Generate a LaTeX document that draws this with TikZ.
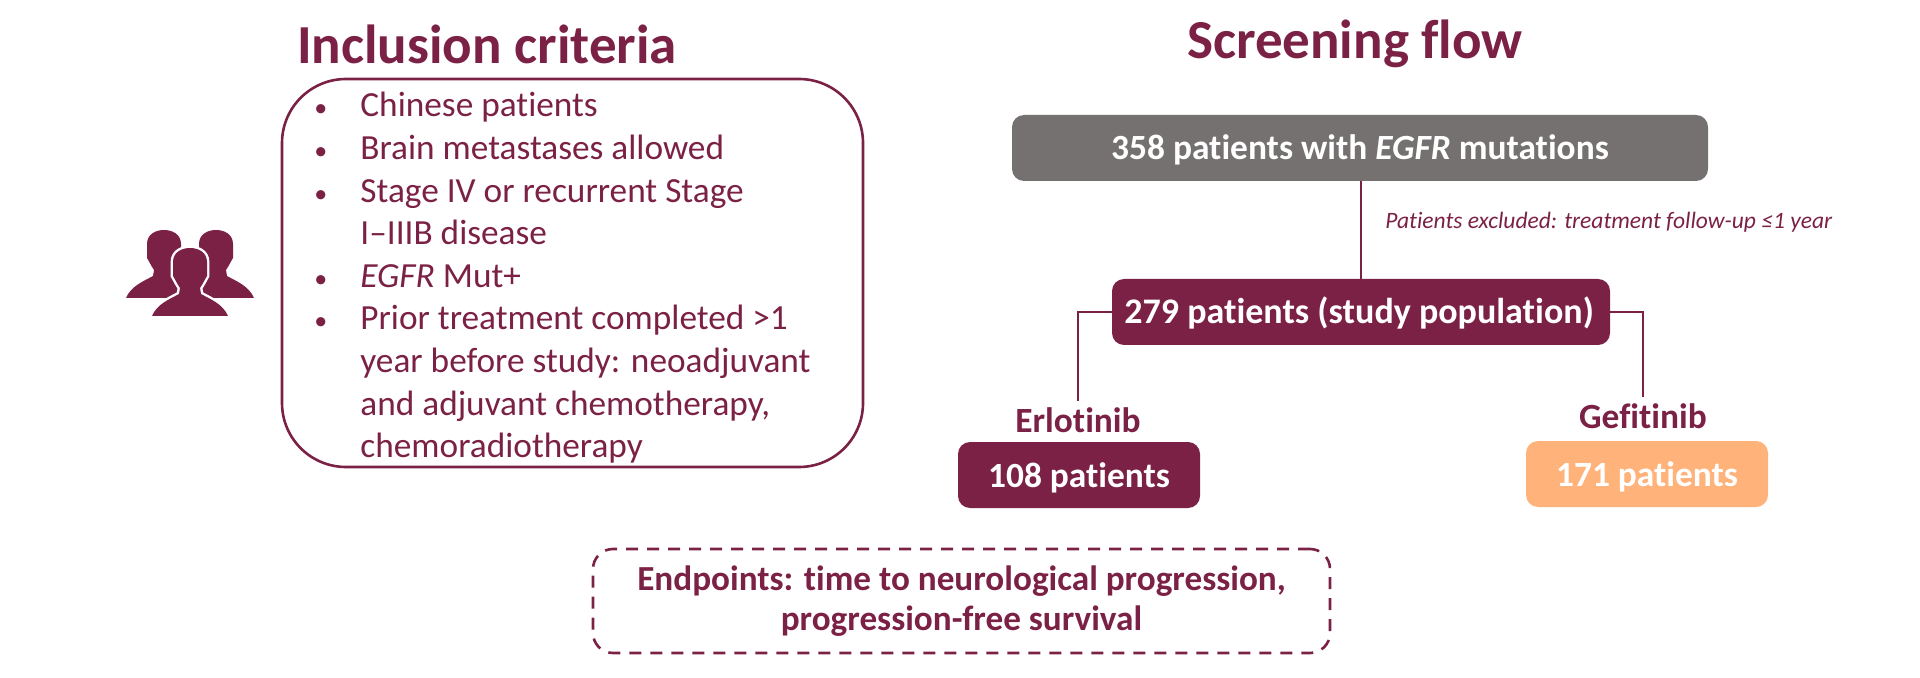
\documentclass[tikz,border=0pt]{standalone}
\usepackage{fontspec}
\setmainfont{Carlito}[Ligatures=NoCommon]
\usetikzlibrary{positioning}
\definecolor{maroon}{HTML}{7B2145}
\definecolor{slategray}{HTML}{767171}
\definecolor{peach}{HTML}{FFB27A}
\newcommand{\crit}[1]{\llap{{\fontsize{13}{13}\selectfont\textbullet}\hspace{16.5pt}}#1}
\tikzset{
    heading/.style={text=maroon, font=\fontsize{27.5}{32}\selectfont\bfseries, inner sep=0pt},
    flowbox/.style={rounded corners=6pt, text=white, inner sep=0pt, text height=12pt, text depth=0pt, font=\fontsize{17.7}{22}\selectfont\bfseries},
    armlabel/.style={text=maroon, inner sep=0pt, font=\fontsize{17.7}{22}\selectfont\bfseries},
    link/.style={draw=maroon, line width=1.3pt},
    person/.pic={
        \path[pic actions] (-38,68) .. controls (-33,56) and (-20,51) .. (-11,46) -- (-10,40)
            .. controls (-14,34) and (-15,31) .. (-17,28) -- (-17,14)
            .. controls (-17,4) and (-8,0) .. (0,0) .. controls (8,0) and (17,4) .. (17,14) -- (17,28)
            .. controls (15,31) and (14,34) .. (10,40) -- (11,46)
            .. controls (20,51) and (33,56) .. (38,68) -- cycle;
    }
}
\begin{document}
\begin{tikzpicture}[x=0.5pt, y=-0.5pt]
    \useasboundingbox (0,0) rectangle (1920,678);

    \node[heading] (inclusion) at (487,44) {Inclusion criteria};
    \node[heading] (screening) at (1355,44) {Screening flow};

    % left panel
    \node[draw=maroon, line width=1.3pt, rounded corners=32pt, minimum width=290.5pt, minimum height=194pt, inner sep=0pt] (critbox) at (572.5,273) {};
    \node[anchor=north west, align=left, text=maroon, inner sep=0pt, font=\fontsize{17.65}{21.3}\selectfont] (critlist) at (360,92) {\crit{Chinese patients}\\
        \crit{Brain metastases allowed}\\
        \crit{Stage IV or recurrent Stage}\\
        I–IIIB disease\\
        \crit{\textit{EGFR} Mut+}\\
        \crit{Prior treatment completed >1}\\
        year before study: neoadjuvant\\
        and adjuvant chemotherapy,\\
        chemoradiotherapy};

    \pic[fill=maroon] (backleft) at (164,230) {person};
    \pic[fill=maroon] (backright) at (216,230) {person};
    \pic[fill=white, draw=white, line width=2.4pt] (halo) at (190,248) {person};
    \pic[fill=maroon] (front) at (190,248) {person};

    % flow
    \node[flowbox, fill=slategray, minimum width=348pt, minimum height=33pt] (all) at (1360,148) {358 patients with \textit{EGFR} mutations};
    \node[flowbox, fill=maroon, minimum width=249pt, minimum height=33pt, font=\fontsize{18}{22}\selectfont\bfseries] (study) at (1361,312) {279 patients (study population)\hspace*{2pt}};
    \node[flowbox, fill=maroon, minimum width=121pt, minimum height=33pt] (erlobox) at (1079,475) {108 patients};
    \node[flowbox, fill=peach, minimum width=121pt, minimum height=33pt] (gefibox) at (1647,474) {171 patients};

    \node[armlabel, minimum height=19pt] (erlo) at (1078,420) {Erlotinib};
    \node[armlabel, minimum height=19pt] (gefi) at (1643,416) {Gefitinib};

    \node[anchor=west, text=maroon, inner sep=0pt, font=\fontsize{11.75}{13}\selectfont\itshape] (excluded) at (1385,222) {Patients excluded: treatment follow-up ≤1 year};

    \draw[link] (all.south -| study) -- (study);
    \draw[link] (study.west) -| (erlo.north);
    \draw[link] (study.east) -| (gefi.north);

    \node[draw=maroon, line width=1.3pt, dash pattern=on 6pt off 4.5pt, rounded corners=10pt, minimum width=368.5pt, minimum height=52pt, align=center, text=maroon, inner sep=0pt, font=\fontsize{17.6}{20}\selectfont\bfseries] (endpoints) at (961.5,601) {Endpoints: time to neurological progression,\\progression-free survival};
\end{tikzpicture}
\end{document}
